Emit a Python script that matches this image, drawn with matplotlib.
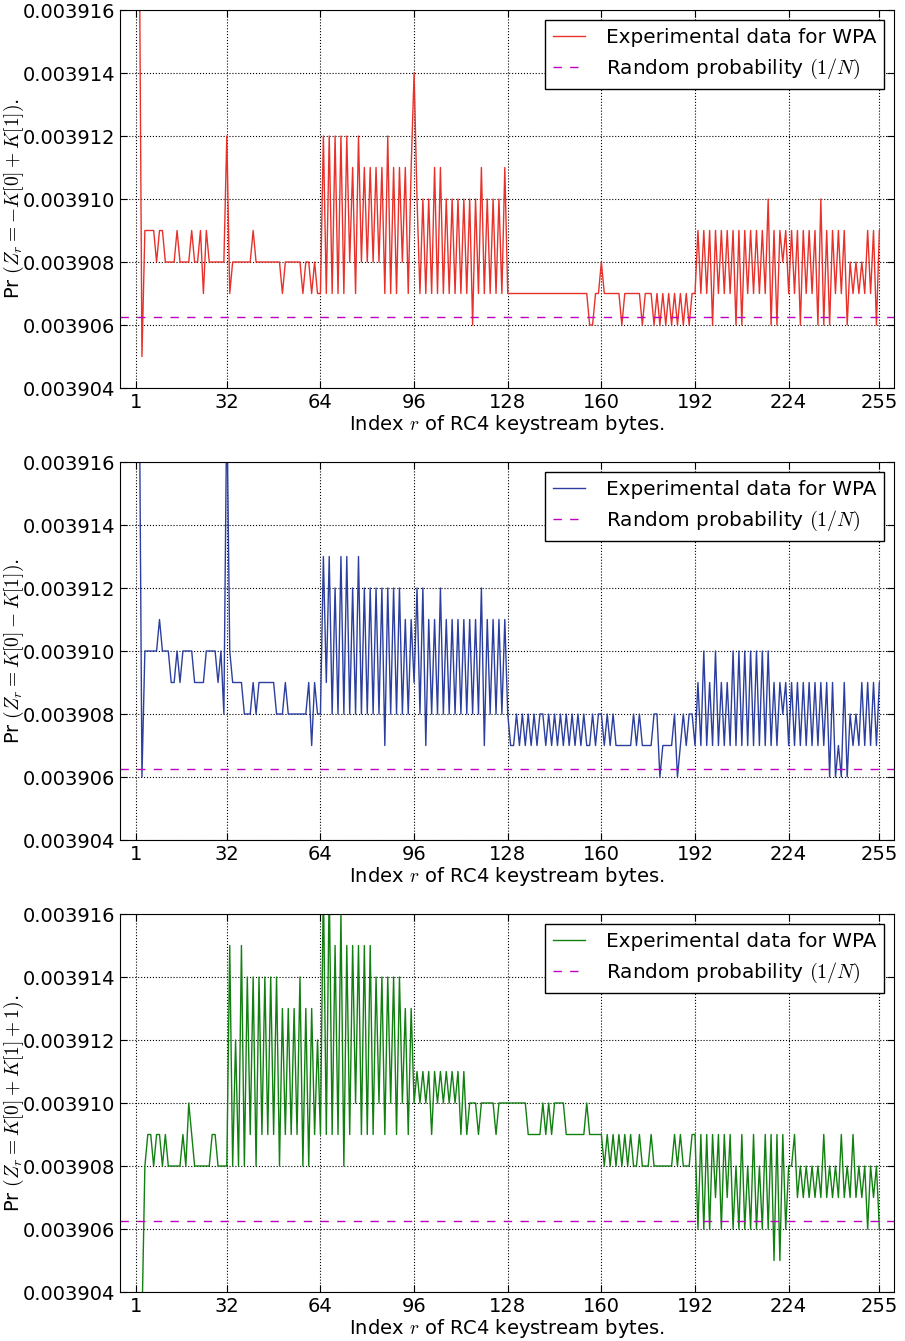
import matplotlib
matplotlib.use("Agg")
import matplotlib.pyplot as plt
import numpy as np

plt.rcParams['mathtext.fontset'] = 'cm'
plt.rcParams['font.family'] = 'DejaVu Sans'
plt.rcParams['font.size'] = 14

# keystream byte index r = 1..255
r = np.arange(1, 256)

# probabilities in units of 1e-6 (3909 -> 0.003909)
pr_minus_k0_plus_k1 = [
    3920, 3920, 3905, 3909, 3909, 3909, 3909, 3908, 3909, 3909, 3908, 3908, 3908, 3908, 3909, 3908,
    3908, 3908, 3908, 3909, 3908, 3908, 3909, 3907, 3909, 3908, 3908, 3908, 3908, 3908, 3908, 3912,
    3907, 3908, 3908, 3908, 3908, 3908, 3908, 3908, 3909, 3908, 3908, 3908, 3908, 3908, 3908, 3908,
    3908, 3908, 3907, 3908, 3908, 3908, 3908, 3908, 3908, 3907, 3908, 3908, 3907, 3908, 3907, 3907,
    3912, 3907, 3912, 3907, 3912, 3907, 3912, 3907, 3912, 3908, 3911, 3907, 3912, 3908, 3911, 3908,
    3911, 3908, 3911, 3908, 3911, 3907, 3912, 3907, 3911, 3907, 3911, 3908, 3911, 3907, 3911, 3914,
    3910, 3907, 3910, 3907, 3910, 3907, 3911, 3907, 3911, 3907, 3910, 3907, 3910, 3907, 3910, 3907,
    3910, 3907, 3910, 3906, 3910, 3907, 3911, 3907, 3910, 3907, 3910, 3907, 3910, 3907, 3911, 3907,
    3907, 3907, 3907, 3907, 3907, 3907, 3907, 3907, 3907, 3907, 3907, 3907, 3907, 3907, 3907, 3907,
    3907, 3907, 3907, 3907, 3907, 3907, 3907, 3907, 3907, 3907, 3907, 3906, 3906, 3907, 3907, 3908,
    3907, 3907, 3907, 3907, 3907, 3907, 3906, 3907, 3907, 3907, 3907, 3907, 3907, 3906, 3907, 3907,
    3907, 3906, 3907, 3906, 3907, 3906, 3907, 3906, 3907, 3906, 3907, 3906, 3907, 3906, 3907, 3907,
    3909, 3907, 3909, 3907, 3909, 3906, 3909, 3907, 3909, 3907, 3909, 3907, 3909, 3906, 3909, 3906,
    3909, 3907, 3909, 3907, 3909, 3907, 3909, 3907, 3910, 3906, 3909, 3906, 3909, 3908, 3909, 3907,
    3909, 3907, 3909, 3906, 3909, 3907, 3909, 3907, 3909, 3906, 3910, 3906, 3909, 3906, 3909, 3907,
    3909, 3907, 3909, 3906, 3908, 3907, 3908, 3907, 3908, 3907, 3909, 3907, 3909, 3906, 3909,
]

pr_k0_minus_k1 = [
    3920, 3920, 3906, 3910, 3910, 3910, 3910, 3910, 3911, 3910, 3910, 3910, 3909, 3909, 3910, 3909,
    3910, 3910, 3910, 3910, 3909, 3909, 3909, 3909, 3910, 3910, 3910, 3910, 3909, 3910, 3908, 3918,
    3910, 3909, 3909, 3909, 3909, 3908, 3908, 3908, 3909, 3908, 3909, 3909, 3909, 3909, 3909, 3909,
    3908, 3908, 3908, 3909, 3908, 3908, 3908, 3908, 3908, 3908, 3908, 3909, 3907, 3909, 3908, 3908,
    3913, 3909, 3913, 3908, 3912, 3908, 3913, 3908, 3913, 3908, 3912, 3908, 3913, 3908, 3912, 3908,
    3912, 3908, 3912, 3908, 3912, 3907, 3912, 3908, 3912, 3908, 3912, 3908, 3911, 3908, 3911, 3909,
    3912, 3908, 3912, 3907, 3911, 3908, 3911, 3908, 3912, 3908, 3911, 3908, 3911, 3908, 3911, 3908,
    3911, 3908, 3911, 3908, 3911, 3908, 3912, 3907, 3911, 3908, 3911, 3908, 3911, 3908, 3911, 3908,
    3907, 3907, 3908, 3907, 3908, 3907, 3908, 3907, 3908, 3907, 3908, 3908, 3907, 3908, 3907, 3908,
    3907, 3908, 3907, 3908, 3907, 3908, 3907, 3908, 3907, 3908, 3907, 3907, 3908, 3907, 3908, 3908,
    3907, 3908, 3907, 3908, 3907, 3907, 3907, 3907, 3907, 3907, 3908, 3907, 3908, 3907, 3907, 3907,
    3907, 3908, 3908, 3906, 3907, 3907, 3907, 3907, 3908, 3906, 3907, 3908, 3907, 3908, 3908, 3907,
    3909, 3907, 3910, 3907, 3909, 3907, 3910, 3907, 3909, 3907, 3909, 3907, 3910, 3907, 3910, 3907,
    3910, 3907, 3910, 3907, 3910, 3907, 3910, 3907, 3910, 3907, 3909, 3907, 3909, 3908, 3909, 3907,
    3909, 3907, 3909, 3907, 3909, 3907, 3909, 3907, 3909, 3907, 3909, 3907, 3909, 3906, 3909, 3906,
    3907, 3906, 3909, 3906, 3908, 3907, 3908, 3907, 3909, 3907, 3909, 3907, 3909, 3907, 3909,
]

pr_k0_plus_k1_plus_1 = [
    3900, 3900, 3903, 3908, 3909, 3909, 3908, 3909, 3909, 3908, 3909, 3908, 3908, 3908, 3908, 3908,
    3909, 3908, 3910, 3909, 3908, 3908, 3908, 3908, 3908, 3908, 3909, 3909, 3908, 3908, 3908, 3908,
    3915, 3908, 3912, 3908, 3915, 3908, 3914, 3909, 3914, 3908, 3914, 3909, 3914, 3909, 3914, 3909,
    3914, 3908, 3913, 3909, 3913, 3909, 3913, 3909, 3914, 3908, 3913, 3908, 3913, 3909, 3912, 3909,
    3917, 3909, 3917, 3909, 3915, 3909, 3916, 3908, 3915, 3909, 3915, 3910, 3915, 3909, 3915, 3909,
    3915, 3909, 3914, 3910, 3914, 3909, 3914, 3910, 3914, 3909, 3914, 3910, 3913, 3909, 3913, 3910,
    3911, 3910, 3911, 3910, 3911, 3909, 3911, 3910, 3911, 3910, 3911, 3910, 3911, 3910, 3911, 3909,
    3911, 3909, 3910, 3910, 3910, 3909, 3910, 3910, 3910, 3910, 3910, 3909, 3910, 3910, 3910, 3910,
    3910, 3910, 3910, 3910, 3910, 3910, 3909, 3909, 3909, 3909, 3909, 3910, 3909, 3910, 3909, 3910,
    3910, 3910, 3910, 3909, 3909, 3909, 3909, 3909, 3909, 3909, 3910, 3909, 3909, 3909, 3909, 3909,
    3908, 3909, 3908, 3909, 3908, 3909, 3908, 3909, 3908, 3909, 3908, 3908, 3909, 3908, 3908, 3908,
    3909, 3908, 3908, 3908, 3908, 3908, 3908, 3908, 3909, 3908, 3909, 3908, 3908, 3908, 3909, 3909,
    3906, 3909, 3906, 3909, 3906, 3909, 3907, 3909, 3906, 3909, 3907, 3909, 3906, 3908, 3906, 3909,
    3906, 3908, 3906, 3909, 3906, 3908, 3906, 3909, 3906, 3909, 3905, 3909, 3905, 3909, 3906, 3908,
    3908, 3909, 3907, 3908, 3907, 3908, 3907, 3908, 3907, 3908, 3907, 3909, 3907, 3908, 3907, 3908,
    3907, 3909, 3907, 3908, 3907, 3909, 3907, 3908, 3907, 3908, 3906, 3908, 3907, 3908, 3906,
]

series = [pr_minus_k0_plus_k1, pr_k0_minus_k1, pr_k0_plus_k1_plus_1]
colors = ['#e8312a', '#2c3f9e', '#118011']
ylabels = [r'Pr $(Z_r = -K[0] + K[1])$.',
           r'Pr $(Z_r = K[0] - K[1])$.',
           r'Pr $(Z_r = K[0] + K[1] + 1)$.']
random_prob = 1 / 256
xticks = [1, 32, 64, 96, 128, 160, 192, 224, 255]
yticks = np.arange(3904, 3917, 2) * 1e-6

fig = plt.figure(figsize=(9.05, 13.41), dpi=100)
W, H = 905.0, 1341.0
tops = [10, 462, 914]

for vals, col, ylab, top in zip(series, colors, ylabels, tops):
    ax = fig.add_axes([120 / W, 1 - (top + 378) / H, 774 / W, 378 / H])
    ax.plot(r, np.array(vals) * 1e-6, color=col, lw=1.0,
            label='Experimental data for WPA')
    ax.axhline(random_prob, color='#bf00bf', lw=1.0, dashes=(6, 6),
               label='Random probability $(1/N)$')
    ax.set_xlim(-4.5, 260)
    ax.set_ylim(0.003904, 0.003916)
    ax.set_xticks(xticks)
    ax.set_yticks(yticks)
    ax.set_yticklabels(['%.6f' % v for v in yticks])
    ax.tick_params(direction='in', top=True, right=True, length=5)
    ax.grid(True, color='k', linestyle=':', linewidth=0.8)
    ax.set_xlabel('Index $r$ of RC4 keystream bytes.', labelpad=1)
    ax.set_ylabel(ylab)
    ax.yaxis.set_label_coords(-0.121, 0.5)
    leg = ax.legend(loc='upper right', fancybox=False, framealpha=1,
                    edgecolor='k', handlelength=1.6, handletextpad=1.05,
                    borderaxespad=0.5, fontsize=14.4)
    leg.get_frame().set_linewidth(1.0)

fig.savefig('out.png', dpi=100, facecolor='white')
